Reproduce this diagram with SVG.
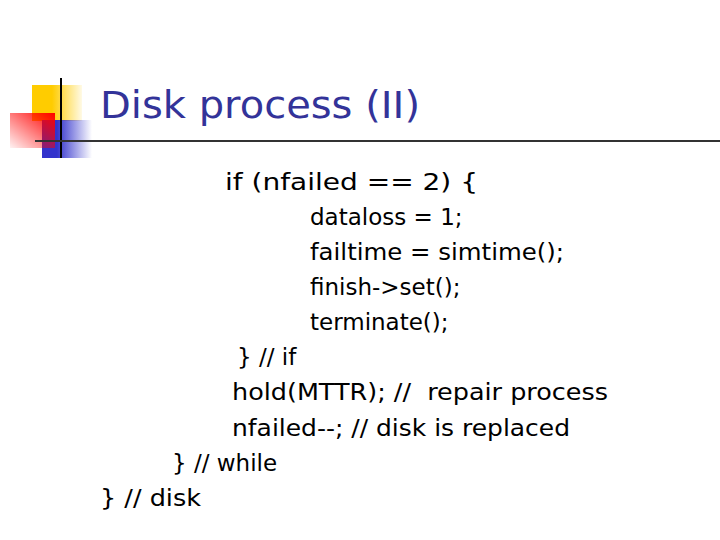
<svg xmlns="http://www.w3.org/2000/svg" width="720" height="540" viewBox="0 0 720 540">
<defs>
<linearGradient id="y" x1="0" x2="1"><stop offset="0.4" stop-color="#ffcc00"/><stop offset="1" stop-color="#ffcc00" stop-opacity="0.1"/></linearGradient>
<linearGradient id="r" x1="0" x2="1" y1="1" y2="0"><stop offset="0" stop-color="#ff0000" stop-opacity="0.05"/><stop offset="1" stop-color="#ff0000"/></linearGradient>
<linearGradient id="b" x1="0" x2="1"><stop offset="0.3" stop-color="#3333cc"/><stop offset="1" stop-color="#3333cc" stop-opacity="0"/></linearGradient>
<style>.t{font-family:"DejaVu Sans",sans-serif;font-size:23px;fill:#000}</style>
</defs>
<rect width="720" height="540" fill="#fff"/>
<g id="logo">
<rect x="32" y="85" width="50" height="36" fill="url(#y)"/>
<rect x="42" y="120" width="50" height="38" fill="url(#b)"/>
<rect x="10" y="113" width="45" height="35" fill="url(#r)"/>
<line x1="61" y1="78" x2="61" y2="158" stroke="#000" stroke-width="2"/>
<line x1="35" y1="141" x2="720" y2="141" stroke="#333" stroke-width="2"/>
</g>
<text x="100" y="118" style="font-family:'DejaVu Sans',sans-serif;font-size:37px;fill:#333399" textLength="320" lengthAdjust="spacingAndGlyphs">Disk process (II)</text>
<g id="code">
<text class="t" x="225" y="190" textLength="253" lengthAdjust="spacingAndGlyphs">if (nfailed == 2) {</text>
<text class="t" x="310" y="225">dataloss = 1;</text>
<text class="t" x="310" y="260" textLength="254" lengthAdjust="spacingAndGlyphs">failtime = simtime();</text>
<text class="t" x="310" y="295">finish-&gt;set();</text>
<text class="t" x="310" y="330">terminate();</text>
<text class="t" x="237" y="365">} // if</text>
<text class="t" x="232" y="400" textLength="376" lengthAdjust="spacingAndGlyphs" xml:space="preserve">hold(MTTR); //  repair process</text>
<text class="t" x="232" y="436" textLength="338" lengthAdjust="spacingAndGlyphs">nfailed--; // disk is replaced</text>
<text class="t" x="172" y="471">} // while</text>
<text class="t" x="100" y="506" textLength="101" lengthAdjust="spacingAndGlyphs">} // disk</text>
</g>
</svg>
